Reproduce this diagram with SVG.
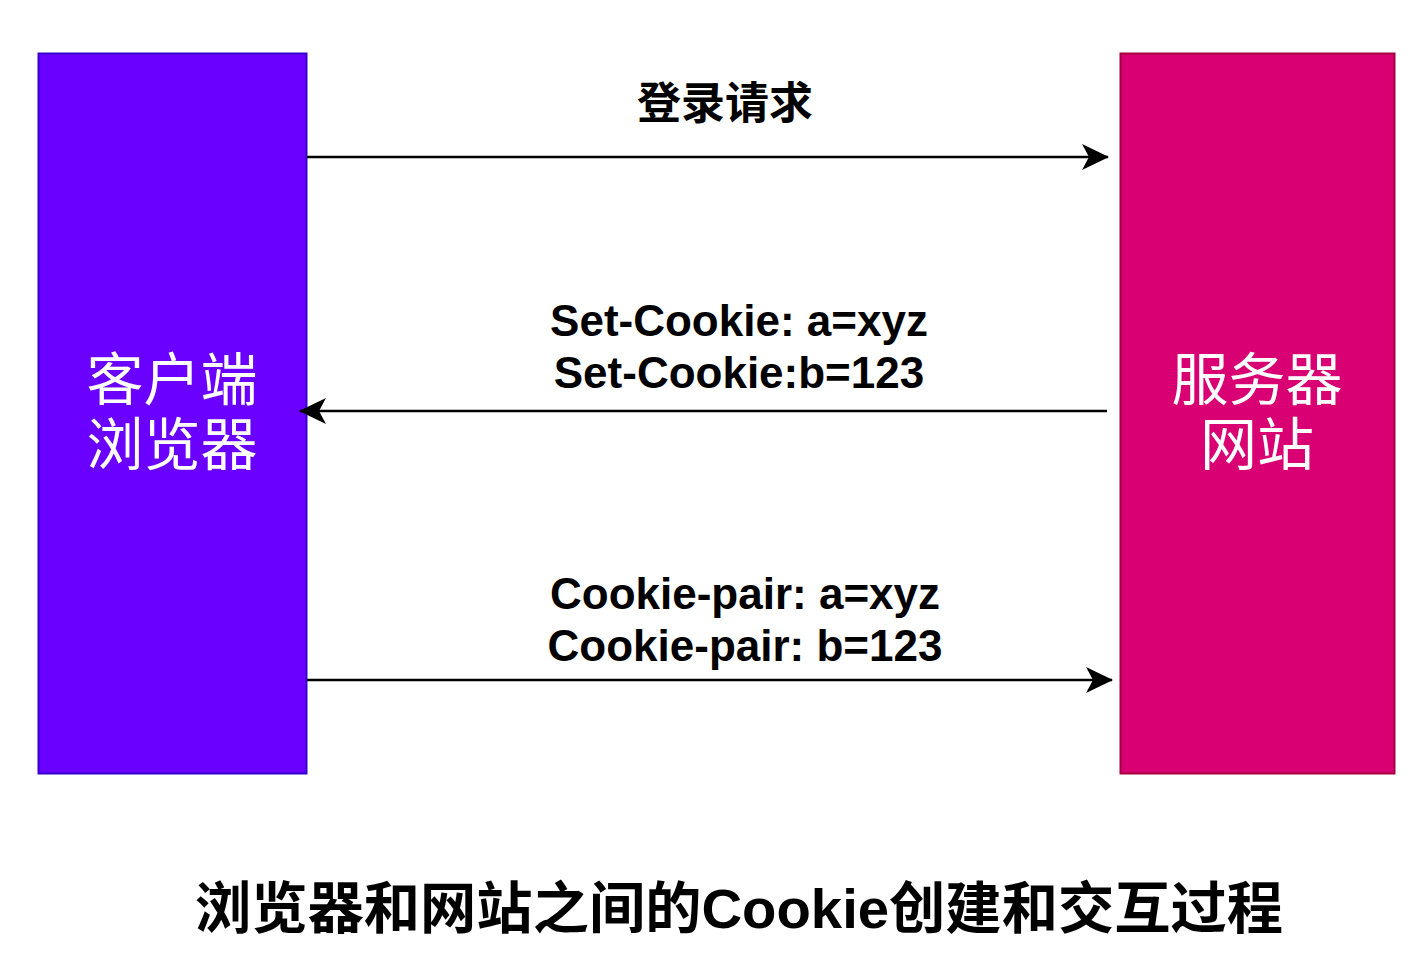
<svg xmlns="http://www.w3.org/2000/svg" width="1427" height="971" viewBox="0 0 1427 971">
<defs>
<marker id="arr" viewBox="0 0 28 28" refX="26" refY="14" markerWidth="28" markerHeight="28" markerUnits="userSpaceOnUse" orient="auto">
<path d="M0,1 L27,14 L0,27 L7,14 Z" fill="#000"/>
</marker>
<style>
.lbl{font-family:"Liberation Sans","Noto Sans CJK SC",Arial,sans-serif;font-weight:bold;font-size:44px;fill:#000;text-anchor:middle}
.node{font-family:"Liberation Sans","Noto Sans CJK SC",sans-serif;font-size:57px;fill:#fff;text-anchor:middle}
.edge{stroke:#000;stroke-width:2.5;fill:none;marker-end:url(#arr)}
</style>
</defs>
<rect width="1427" height="971" fill="#fff"/>
<g id="client">
<rect x="38.5" y="53.5" width="268" height="720" fill="#6a00ff" stroke="#3700cc" stroke-width="2"/>
<text class="node" x="172" y="400">客户端</text>
<text class="node" x="172" y="465">浏览器</text>
</g>
<g id="server">
<rect x="1120.5" y="53.5" width="274" height="720" fill="#d80073" stroke="#a50040" stroke-width="2"/>
<text class="node" x="1257" y="400">服务器</text>
<text class="node" x="1257" y="465">网站</text>
</g>
<g id="connectors">
<path class="edge" d="M307,157 L1108,157"/>
<path class="edge" d="M1107,411 L300,411"/>
<path class="edge" d="M307,680 L1112,680"/>
</g>
<g id="labels">
<text class="lbl" x="725" y="119">登录请求</text>
<text class="lbl" x="739" y="336">Set-Cookie: a=xyz</text>
<text class="lbl" x="739" y="388">Set-Cookie:b=123</text>
<text class="lbl" x="745" y="609">Cookie-pair: a=xyz</text>
<text class="lbl" x="745" y="661">Cookie-pair: b=123</text>
</g>
<g id="title">
<text x="739" y="928" font-family="Liberation Sans,Noto Sans CJK SC,sans-serif" font-weight="bold" font-size="56" text-anchor="middle" textLength="1088" lengthAdjust="spacingAndGlyphs">浏览器和网站之间的Cookie创建和交互过程</text>
</g>
</svg>
